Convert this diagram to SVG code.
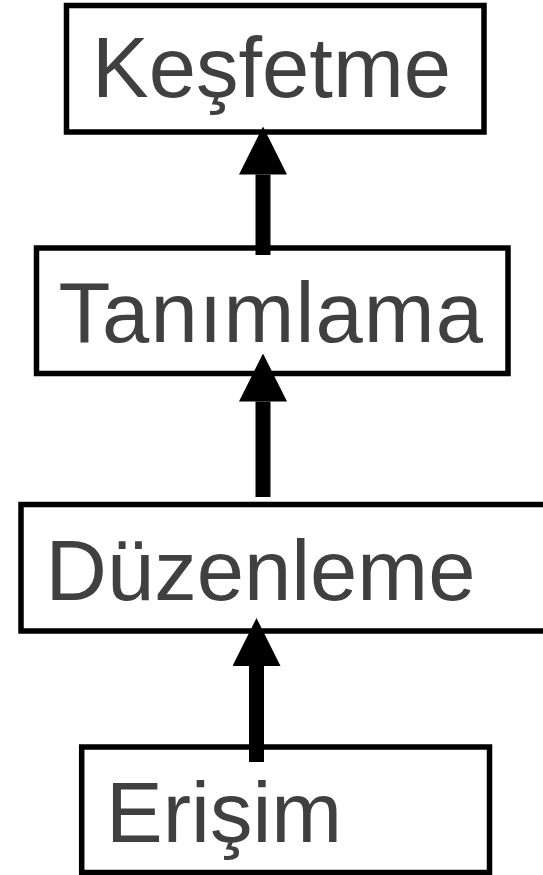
<svg xmlns="http://www.w3.org/2000/svg" width="543" height="875" viewBox="0 0 543 875">
  <style>
    .box { fill: #ffffff; stroke: #000000; stroke-width: 5.5; }
    .label { font-family: "Liberation Sans", Arial, sans-serif; font-size: 85px; fill: #404040; }
    .flow { stroke: #000000; stroke-width: 15; fill: none; marker-end: url(#head); }
  </style>
  <defs>
    <marker id="head" markerUnits="userSpaceOnUse" markerWidth="48" markerHeight="48" viewBox="0 0 48 48" refX="0" refY="24" orient="auto">
      <path d="M0,0 L48,24 L0,48 Z" fill="#000000"/>
    </marker>
  </defs>

  <rect width="543" height="875" fill="#ffffff"/>

  <g id="node-kesfetme">
    <rect class="box" x="66.5" y="5.5" width="417.5" height="126.5"/>
    <text class="label" x="92" y="97">Keşfetme</text>
  </g>

  <g id="node-tanimlama">
    <rect class="box" x="36.5" y="248" width="471.5" height="125.5"/>
    <text class="label" x="58.5" y="342" letter-spacing="1.1">Tanımlama</text>
  </g>

  <g id="node-duzenleme">
    <rect class="box" x="21" y="504.5" width="540" height="126.5"/>
    <text class="label" x="45.5" y="600">Düzenleme</text>
  </g>

  <g id="node-erisim">
    <rect class="box" x="81.7" y="747" width="407.8" height="125.5"/>
    <text class="label" x="106" y="842">Erişim</text>
  </g>

  <g id="connectors">
    <line class="flow" x1="263" y1="255" x2="263" y2="174.5"/>
    <line class="flow" x1="263" y1="497" x2="263" y2="401.5"/>
    <line class="flow" x1="256.5" y1="762" x2="256.5" y2="666"/>
  </g>
</svg>
